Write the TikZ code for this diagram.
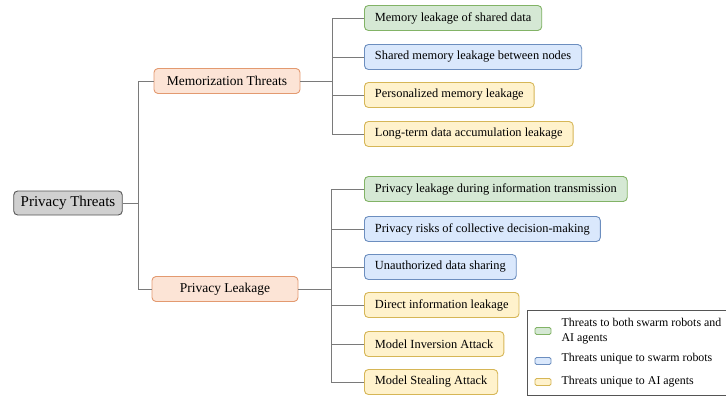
\documentclass[tikz,border=0pt]{standalone}
\usepackage{fontspec}
\setmainfont{Liberation Serif}
\usepackage{tikz}
\usetikzlibrary{positioning}
\definecolor{rootfill}{HTML}{D0D0D0}
\definecolor{rootline}{HTML}{555555}
\definecolor{midfill}{HTML}{FCE4D6}
\definecolor{midline}{HTML}{E39A70}
\definecolor{gfill}{HTML}{D5E8D4}
\definecolor{gline}{HTML}{82B366}
\definecolor{bfill}{HTML}{DAE8FC}
\definecolor{bline}{HTML}{6C8EBF}
\definecolor{yfill}{HTML}{FFF2CC}
\definecolor{yline}{HTML}{D6B656}
\definecolor{wire}{HTML}{7A7A7A}
\tikzstyle{rootbox}=[%
      rectangle, rounded corners=4pt, draw=rootline, fill=rootfill, line width=0.9pt,
      minimum height=24pt, inner xsep=7pt, font=\fontsize{15}{18}\selectfont
]
\tikzstyle{midbox}=[%
      rectangle, rounded corners=4pt, draw=midline, fill=midfill, line width=0.9pt,
      minimum height=25pt, minimum width=146pt, font=\fontsize{13.5}{16}\selectfont
]
\tikzstyle{leaf}=[%
      rectangle, rounded corners=4pt, anchor=west, minimum height=25pt, line width=0.9pt,
      inner xsep=10.5pt, font=\fontsize{12.4}{14}\selectfont
]
\tikzstyle{both}=[leaf, draw=gline, fill=gfill]
\tikzstyle{swarm}=[leaf, draw=bline, fill=bfill]
\tikzstyle{agent}=[leaf, draw=yline, fill=yfill]
\tikzstyle{swatch}=[%
      rectangle, rounded corners=1.5pt, minimum width=16pt, minimum height=7pt,
      inner sep=0pt, line width=0.9pt
]
\tikzstyle{keytext}=[%
      anchor=west, inner sep=0pt, align=left, font=\fontsize{11.9}{15}\selectfont
]

\begin{document}
\begin{tikzpicture}[x=1pt, y=-1pt, wire/.style={draw=wire, line width=0.9pt}]
    \useasboundingbox (0,0) rectangle (726,396);

    \node[rootbox] (root) at (68,203) {Privacy Threats};
    \node[midbox]  (mem)  at (227,81) {Memorization Threats};
    \node[midbox]  (leak) at (225,289) {Privacy Leakage};

    \node[both]  (m1) at (364,18)  {Memory leakage of shared data};
    \node[swarm] (m2) at (364,57)  {Shared memory leakage between nodes};
    \node[agent] (m3) at (364,95)  {Personalized memory leakage};
    \node[agent] (m4) at (364,134) {Long-term data accumulation leakage};

    \node[both]  (l1) at (364,189) {Privacy leakage during information transmission};
    \node[swarm] (l2) at (364,229) {Privacy risks of collective decision-making};
    \node[swarm] (l3) at (364,267) {Unauthorized data sharing};
    \node[agent] (l4) at (364,305) {Direct information leakage};
    \node[agent] (l5) at (364,344) {Model Inversion Attack};
    \node[agent] (l6) at (364,382) {Model Stealing Attack};

    \coordinate (j0) at (138,203);
    \coordinate (j1) at (332,81);
    \coordinate (j2) at (331,289);

    \draw[wire] (root.east) -- (j0);
    \draw[wire] (j0) |- (mem.west);
    \draw[wire] (j0) |- (leak.west);

    \draw[wire] (mem.east) -- (j1);
    \foreach \n in {m1,m2,m3,m4}
      \draw[wire] (j1) |- (\n.west);

    \draw[wire] (leak.east) -- (j2);
    \foreach \n in {l1,l2,l3,l4,l5,l6}
      \draw[wire] (j2) |- (\n.west);

    % legend
    \draw[draw=rootline, fill=white, line width=0.8pt] (527,310) rectangle (740,395.5);
    \node[swatch, draw=gline, fill=gfill] (k1) at (543,331) {};
    \node[swatch, draw=bline, fill=bfill] (k2) at (543,361) {};
    \node[swatch, draw=yline, fill=yfill] (k3) at (543,382) {};
    \node[keytext] (t1) [right=10pt of k1] {Threats to both swarm robots and\\AI agents};
    \node[keytext] (t2) [right=10pt of k2, yshift=2pt] {Threats unique to swarm robots};
    \node[keytext] (t3) [right=10pt of k3] {Threats unique to AI agents};
\end{tikzpicture}
\end{document}
